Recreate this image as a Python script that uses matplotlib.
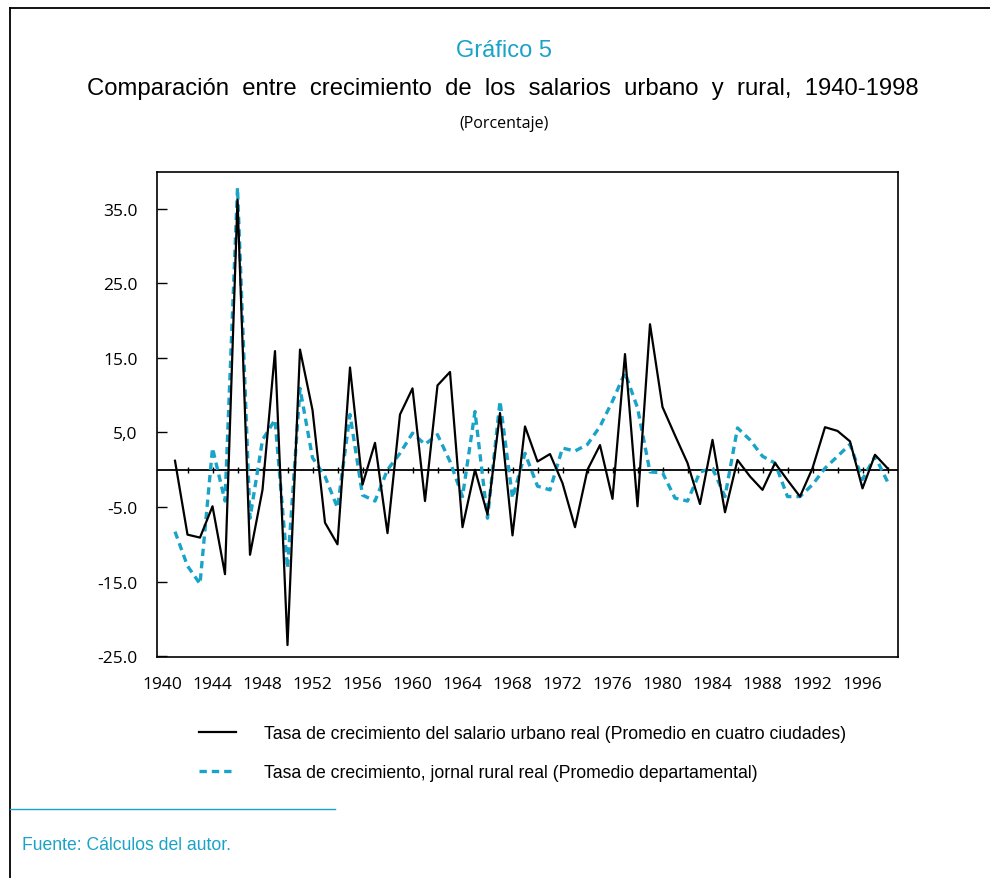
import numpy as np
import matplotlib
matplotlib.use("Agg")
import matplotlib.pyplot as plt
from matplotlib.lines import Line2D

# data (percent growth, 1941-1998)
years = np.arange(1941, 1999)

urbano = [1.2, -8.7, -9.1, -4.9, -14.0, 36.2, -11.4, -2.7, 15.9, -23.5,
          16.1, 8.0, -7.1, -10.0, 13.7, -2.0, 3.6, -8.5, 7.4, 10.9,
          -4.2, 11.3, 13.1, -7.7, 0.0, -6.0, 7.6, -8.8, 5.8, 1.1,
          2.1, -1.8, -7.7, 0.0, 3.3, -3.9, 15.5, -4.9, 19.5, 8.4,
          4.6, 0.9, -4.6, 4.0, -5.7, 1.3, -0.9, -2.7, 0.9, -1.4,
          -3.6, 0.2, 5.7, 5.2, 3.8, -2.5, 2.0, 0.2]

rural = [-8.3, -12.9, -15.3, 2.9, -4.2, 37.8, -6.5, 4.0, 6.7, -13.2,
         10.9, 1.6, -0.9, -5.1, 7.4, -3.4, -4.2, 0.0, 2.2, 4.9,
         3.4, 4.7, 1.1, -3.6, 7.8, -6.5, 9.2, -3.8, 2.2, -2.2,
         -2.7, 2.9, 2.5, 3.4, 5.8, 9.2, 13.0, 8.3, -0.3, -0.4,
         -3.8, -4.2, -0.3, 0.2, -3.6, 5.6, 4.0, 1.8, 0.9, -3.6,
         -3.6, -2.0, 0.2, 1.8, 3.4, -1.3, 1.8, -1.6]

xticks = list(range(1940, 1997, 4))
yticks = [-25, -15, -5, 5, 15, 25, 35]
ytick_labels = ["-25.0", "-15.0", "-5.0", "5,0", "15.0", "25.0", "35.0"]

label_urbano = "Tasa de crecimiento del salario urbano real (Promedio en cuatro ciudades)"
label_rural = "Tasa de crecimiento, jornal rural real (Promedio departamental)"

CYAN = "#1aa3c8"
NARROW = "Liberation Sans"
TICKFONT = ["Open Sans", "DejaVu Sans"]

fig = plt.figure(figsize=(9.9, 8.79), dpi=100)
ax = fig.add_axes([157 / 990, 1 - 658 / 879, (898 - 157) / 990, (658 - 173) / 879])

ax.axhline(0, color="black", lw=1.3, zorder=1)
l1, = ax.plot(years, urbano, color="black", lw=1.6, zorder=3)
l2, = ax.plot(years, rural, color=CYAN, lw=2.4, dashes=(2.2, 1.5), zorder=2)

ylo, yhi = -25.1, 39.9
ax.set_xlim(1939.56, 1998.84)
ax.set_ylim(ylo, yhi)

ax.set_yticks(yticks)
ax.set_yticklabels(ytick_labels, fontfamily=TICKFONT, fontsize=12.5)
ax.tick_params(axis="y", direction="in", length=7, width=1, pad=14)

ax.set_xticks(xticks)
ax.set_xticklabels([str(y) for y in xticks], fontfamily=TICKFONT, fontsize=12.5)
ax.tick_params(axis="x", length=0, pad=14)

for s in ax.spines.values():
    s.set_linewidth(1.2)

# tick marks on the zero line
sec = ax.secondary_xaxis((0 - ylo) / (yhi - ylo))
sec.set_xticks(list(range(1942, 1999, 2)))
sec.set_xticklabels([])
sec.tick_params(direction="inout", length=5, width=1)
sec.spines["bottom"].set_visible(False)

# titles
fig.text(0.509, 1 - 51 / 879, "Gráfico 5", color=CYAN, fontsize=17,
         family="Liberation Sans", ha="center", va="center")
fig.text(0.508, 1 - 89 / 879,
         "Comparación  entre  crecimiento  de  los  salarios  urbano  y  rural,  1940-1998",
         color="black", fontsize=17.2, family="Liberation Sans", ha="center", va="center")
fig.text(0.509, 1 - 124 / 879, "(Porcentaje)", color="black", fontsize=11.5,
         family=TICKFONT, ha="center", va="center")

fig.legend([l1, l2], [label_urbano, label_rural], loc="upper left",
           bbox_to_anchor=(199 / 990, 1 - 726 / 879), frameon=False,
           prop={"family": NARROW, "size": 12.7}, handlelength=2.1,
           handletextpad=1.6, labelspacing=1.25, borderpad=0, borderaxespad=0)

# frame lines and source note
fig.add_artist(Line2D([10 / 990, 10 / 990], [0, 1 - 9 / 879], color="black",
                      lw=1.3, transform=fig.transFigure))
fig.add_artist(Line2D([10 / 990, 1], [1 - 9 / 879, 1 - 9 / 879], color="black",
                      lw=1.3, transform=fig.transFigure))
fig.add_artist(Line2D([10 / 990, 335 / 990], [1 - 810 / 879, 1 - 810 / 879],
                      color=CYAN, lw=1.0, transform=fig.transFigure))
fig.text(22 / 990, 1 - 846 / 879, "Fuente: Cálculos del autor.", color=CYAN,
         fontsize=12.7, family=NARROW, ha="left", va="center")

fig.savefig("out.png", dpi=100)
